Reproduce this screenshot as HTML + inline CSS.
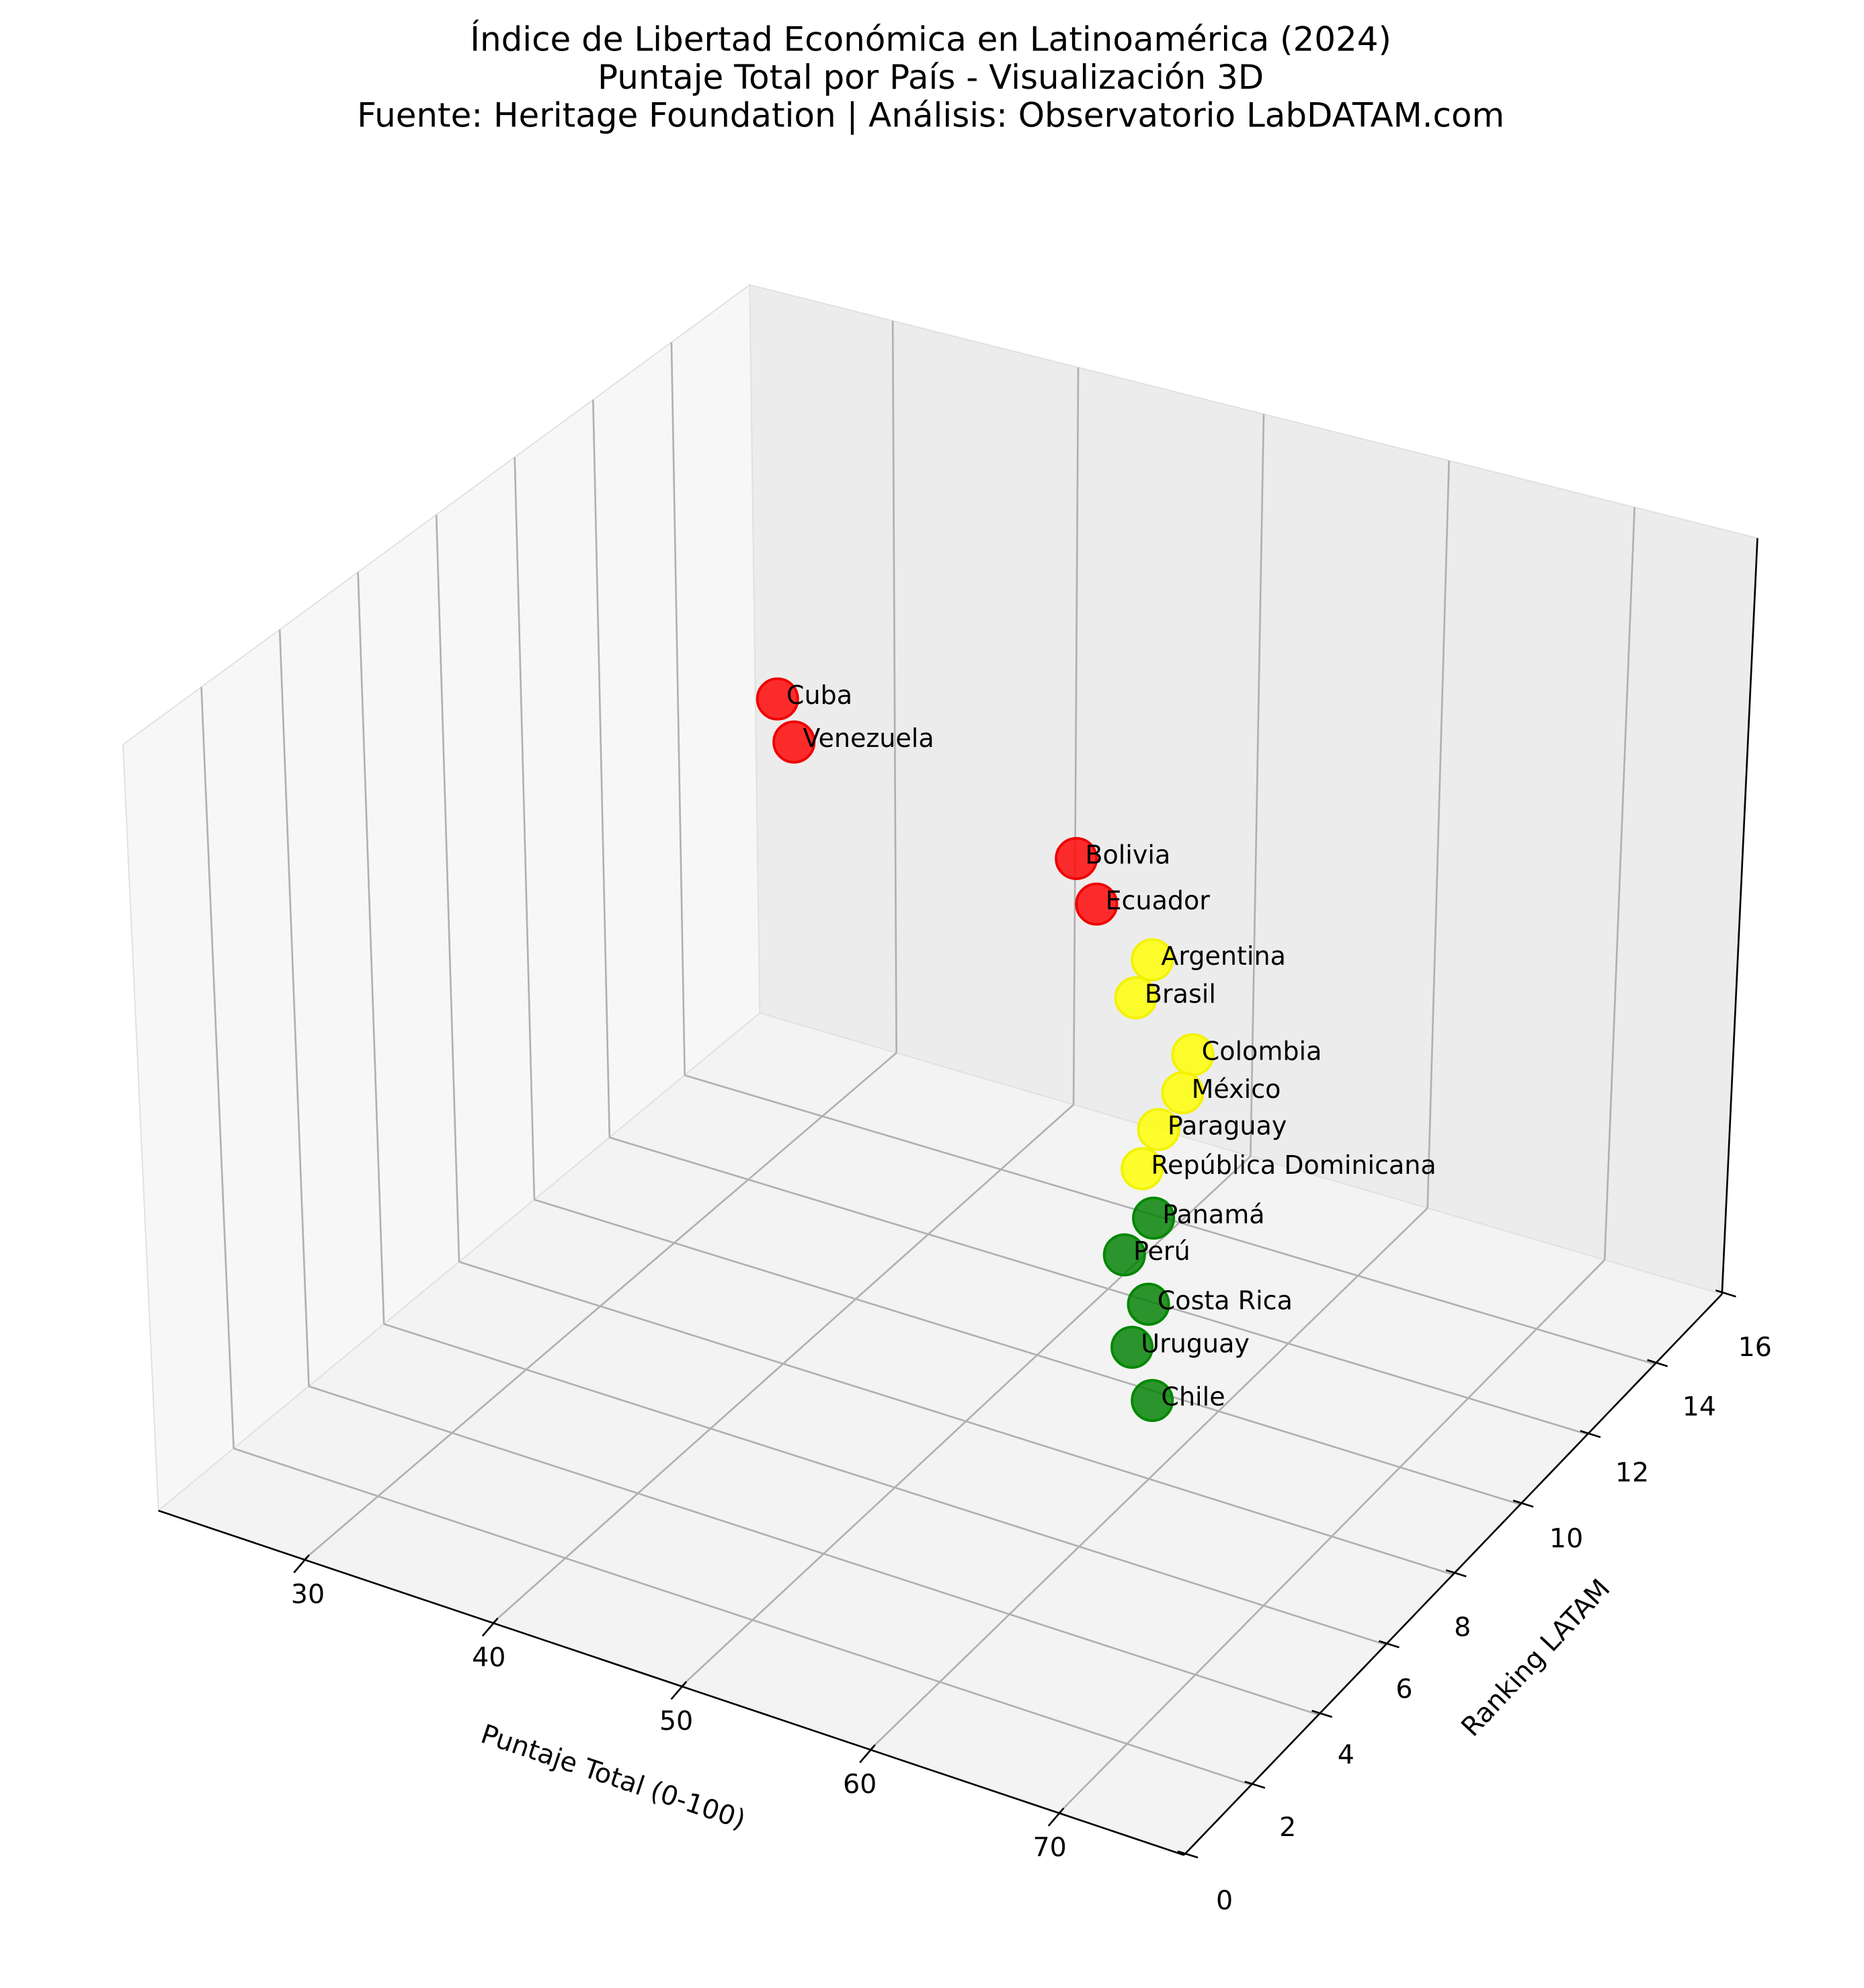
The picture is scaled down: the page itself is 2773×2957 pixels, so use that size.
<!DOCTYPE html>
<html><head><meta charset="utf-8"><style>
html,body{margin:0;padding:0;background:#fff}
svg{display:block}
text{font-family:"DejaVu Sans","Liberation Sans",sans-serif;fill:#000}
</style></head><body>
<svg width="2773" height="2957" viewBox="0 0 1472 1570" xmlns="http://www.w3.org/2000/svg">
<rect width="1472" height="1570" fill="#fff"/>
<g text-anchor="middle" font-size="26.5">
<text x="735" y="40">Índice de Libertad Económica en Latinoamérica (2024)</text>
<text x="735" y="70">Puntaje Total por País - Visualización 3D</text>
<text x="735" y="100">Fuente: Heritage Foundation | Análisis: Observatorio LabDATAM.com</text>
</g>
<polygon points="97,588 592,225 600,800 125,1193" fill="#f7f7f7" stroke="#e0e0e0" stroke-width="1"/>
<polygon points="592,225 1388,425 1360,1022 600,800" fill="#ececec" stroke="#e0e0e0" stroke-width="1"/>
<polygon points="600,800 1360,1022 935,1465 125,1193" fill="#f3f3f3" stroke="#e0e0e0" stroke-width="1"/>
<g stroke="#b0b0b0" stroke-width="1.4" fill="none">
<line x1="184.4" y1="1143.9" x2="158.9" y2="542.6"/>
<line x1="243.8" y1="1094.8" x2="220.8" y2="497.2"/>
<line x1="303.1" y1="1045.6" x2="282.6" y2="451.9"/>
<line x1="362.5" y1="996.5" x2="344.5" y2="406.5"/>
<line x1="421.9" y1="947.4" x2="406.4" y2="361.1"/>
<line x1="481.3" y1="898.3" x2="468.3" y2="315.7"/>
<line x1="540.7" y1="849.2" x2="530.2" y2="270.3"/>
<line x1="184.4" y1="1143.9" x2="988.1" y2="1409.6"/>
<line x1="243.8" y1="1094.8" x2="1041.2" y2="1354.2"/>
<line x1="303.1" y1="1045.6" x2="1094.4" y2="1298.9"/>
<line x1="362.5" y1="996.5" x2="1147.5" y2="1243.5"/>
<line x1="421.9" y1="947.4" x2="1200.6" y2="1188.1"/>
<line x1="481.3" y1="898.3" x2="1253.7" y2="1132.7"/>
<line x1="540.7" y1="849.2" x2="1306.8" y2="1077.3"/>
<line x1="240" y1="1231.6" x2="707.9" y2="831.5"/>
<line x1="389" y1="1281.7" x2="847.8" y2="872.4"/>
<line x1="538" y1="1331.7" x2="987.6" y2="913.2"/>
<line x1="687.1" y1="1381.8" x2="1127.4" y2="954.1"/>
<line x1="836.2" y1="1431.8" x2="1267.3" y2="995"/>
<line x1="707.9" y1="831.5" x2="705" y2="253.4"/>
<line x1="847.8" y1="872.4" x2="851.5" y2="290.2"/>
<line x1="987.6" y1="913.2" x2="998" y2="327"/>
<line x1="1127.4" y1="954.1" x2="1144.4" y2="363.8"/>
<line x1="1267.3" y1="995" x2="1290.9" y2="400.6"/>
</g>
<g stroke="#000" stroke-width="1.4" fill="none">
<line x1="125" y1="1193" x2="935" y2="1465"/>
<line x1="935" y1="1465" x2="1360" y2="1022"/>
<line x1="1360" y1="1022" x2="1388" y2="425"/>
<line x1="244" y1="1228" x2="232" y2="1242"/>
<line x1="393" y1="1278" x2="381" y2="1292"/>
<line x1="542" y1="1328" x2="530" y2="1342"/>
<line x1="691" y1="1378" x2="679" y2="1392"/>
<line x1="840" y1="1428" x2="828" y2="1442"/>
<line x1="930" y1="1462" x2="946" y2="1467"/>
<line x1="983" y1="1407" x2="999" y2="1412"/>
<line x1="1036" y1="1351" x2="1052" y2="1356"/>
<line x1="1089" y1="1296" x2="1105" y2="1301"/>
<line x1="1142" y1="1240" x2="1158" y2="1245"/>
<line x1="1195" y1="1185" x2="1211" y2="1190"/>
<line x1="1248" y1="1130" x2="1264" y2="1135"/>
<line x1="1301" y1="1074" x2="1317" y2="1079"/>
<line x1="1355" y1="1019" x2="1371" y2="1024"/>
</g>
<g font-size="21" text-anchor="middle">
<text x="243" y="1266">30</text>
<text x="386" y="1316">40</text>
<text x="534" y="1366">50</text>
<text x="679" y="1416">60</text>
<text x="829" y="1466">70</text>
<text x="967" y="1508">0</text>
<text x="1017" y="1450">2</text>
<text x="1063" y="1393">4</text>
<text x="1109" y="1341">6</text>
<text x="1155" y="1292">8</text>
<text x="1237" y="1222">10</text>
<text x="1289" y="1170">12</text>
<text x="1342" y="1118">14</text>
<text x="1386" y="1071">16</text>
</g>
<text font-size="21" text-anchor="middle" transform="translate(482,1410) rotate(18.5)">Puntaje Total (0-100)</text>
<text font-size="21" text-anchor="middle" transform="translate(1218,1314) rotate(-47)">Ranking LATAM</text>
<g stroke-width="2" fill-opacity="0.82">
<circle cx="614" cy="552" r="16" fill="#ff0000" stroke="#e00"/>
<circle cx="627" cy="586" r="16" fill="#ff0000" stroke="#e00"/>
<circle cx="850" cy="678" r="16" fill="#ff0000" stroke="#e00"/>
<circle cx="866" cy="714" r="16" fill="#ff0000" stroke="#e00"/>
<circle cx="910" cy="758" r="16" fill="#ffff00" stroke="#f2f200"/>
<circle cx="897" cy="788" r="16" fill="#ffff00" stroke="#f2f200"/>
<circle cx="942" cy="833" r="16" fill="#ffff00" stroke="#f2f200"/>
<circle cx="934" cy="863" r="16" fill="#ffff00" stroke="#f2f200"/>
<circle cx="915" cy="892" r="16" fill="#ffff00" stroke="#f2f200"/>
<circle cx="902" cy="923" r="16" fill="#ffff00" stroke="#f2f200"/>
<circle cx="911" cy="962" r="16" fill="#007f00" stroke="#008800"/>
<circle cx="888" cy="991" r="16" fill="#007f00" stroke="#008800"/>
<circle cx="907" cy="1030" r="16" fill="#007f00" stroke="#008800"/>
<circle cx="894" cy="1064" r="16" fill="#007f00" stroke="#008800"/>
<circle cx="910" cy="1106" r="16" fill="#007f00" stroke="#008800"/>
</g>
<g font-size="20.2">
<text x="621" y="556">Cuba</text>
<text x="634" y="590">Venezuela</text>
<text x="857" y="682">Bolivia</text>
<text x="873" y="718">Ecuador</text>
<text x="917" y="762">Argentina</text>
<text x="904" y="792">Brasil</text>
<text x="949" y="837">Colombia</text>
<text x="941" y="867">México</text>
<text x="922" y="896">Paraguay</text>
<text x="909" y="927">República Dominicana</text>
<text x="918" y="966">Panamá</text>
<text x="895" y="995">Perú</text>
<text x="914" y="1034">Costa Rica</text>
<text x="901" y="1068">Uruguay</text>
<text x="917" y="1110">Chile</text>
</g>
</svg>
</body></html>
